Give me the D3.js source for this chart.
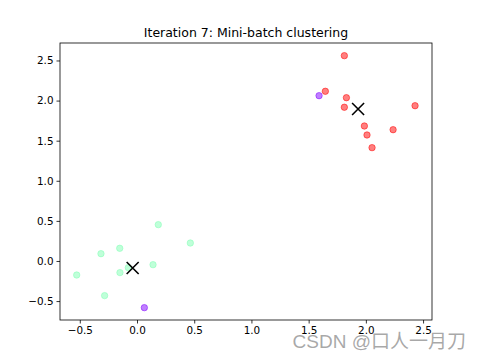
<!DOCTYPE html>
<html>
<head>
<meta charset="utf-8">
<script src="https://cdn.jsdelivr.net/npm/d3@7"></script>
<style>
  body { margin: 0; background: #fff; }
  text { font-family: "DejaVu Sans", sans-serif; }
</style>
</head>
<body>
<script>
var width = 480,
    height = 360,
    margin = {top: 43, right: 48, bottom: 40, left: 60};

// cluster points
var redX = [1.812, 1.646, 1.830, 1.812, 2.430, 1.987, 2.010, 2.238, 2.054];
var redY = [2.560, 2.116, 2.036, 1.917, 1.936, 1.683, 1.571, 1.637, 1.413];
var greenX = [0.186, 0.466, -0.151, -0.315, 0.140, -0.076, -0.149, -0.527, -0.283];
var greenY = [0.453, 0.224, 0.158, 0.091, -0.046, -0.083, -0.145, -0.175, -0.432];
var purpleX = [1.591, 0.064];
var purpleY = [2.061, -0.582];
var centerX = [1.932, -0.038];
var centerY = [1.895, -0.087];

var xTicks = [-0.5, 0.0, 0.5, 1.0, 1.5, 2.0, 2.5];
var yTicks = [-0.5, 0.0, 0.5, 1.0, 1.5, 2.0, 2.5];

var svg = d3.select("body")
    .append("svg")
    .attr("width", width)
    .attr("height", height);

var x = d3.scaleLinear()
    .domain([-0.673, 2.578])
    .range([margin.left, width - margin.right]);

var y = d3.scaleLinear()
    .domain([-0.736, 2.718])
    .range([height - margin.bottom, margin.top]);

function pts(xs, ys) {
  return xs.map(function (v, i) { return [v, ys[i]]; });
}

var groups = [
  {data: pts(greenX, greenY), color: "rgb(128,255,180)"},
  {data: pts(redX, redY), color: "rgb(255,0,0)"},
  {data: pts(purpleX, purpleY), color: "rgb(128,0,255)"}
];

groups.forEach(function (g) {
  svg.append("g").selectAll("circle")
    .data(g.data).enter()
    .append("circle")
      .attr("cx", function (d) { return x(d[0]); })
      .attr("cy", function (d) { return y(d[1]); })
      .attr("r", 3.2)
      .style("fill", g.color)
      .style("fill-opacity", 0.5)
      .style("stroke", g.color)
      .style("stroke-opacity", 0.5)
      .style("stroke-width", 1);
});

// centroids as X markers
var s = 6;
svg.append("g").selectAll("path")
  .data(pts(centerX, centerY)).enter()
  .append("path")
    .attr("d", function (d) {
      var cx = x(d[0]), cy = y(d[1]);
      return "M" + (cx - s) + "," + (cy - s) + "L" + (cx + s) + "," + (cy + s) +
             "M" + (cx - s) + "," + (cy + s) + "L" + (cx + s) + "," + (cy - s);
    })
    .style("stroke", "#000")
    .style("stroke-width", 1.6)
    .style("fill", "none");

// axes
var xAxis = svg.append("g")
    .attr("transform", "translate(0," + (height - margin.bottom) + ")")
    .call(d3.axisBottom(x).tickValues(xTicks).tickSize(3.5).tickPadding(3)
      .tickFormat(function (d) { return d3.format(".1f")(d).replace("-", "\u2212"); }));

var yAxis = svg.append("g")
    .attr("transform", "translate(" + margin.left + ",0)")
    .call(d3.axisLeft(y).tickValues(yTicks).tickSize(3.5).tickPadding(3)
      .tickFormat(function (d) { return d3.format(".1f")(d).replace("-", "\u2212"); }));

[xAxis, yAxis].forEach(function (a) {
  a.select(".domain").remove();
  a.selectAll("text").style("font-size", "10.4px").style("fill", "#000");
  a.selectAll("line").style("stroke", "#000").style("stroke-width", 0.8);
});

// frame
svg.append("rect")
    .attr("x", margin.left)
    .attr("y", margin.top)
    .attr("width", width - margin.left - margin.right)
    .attr("height", height - margin.top - margin.bottom)
    .style("fill", "none")
    .style("stroke", "#000")
    .style("stroke-width", 0.8);

svg.append("text")
    .attr("x", (margin.left + width - margin.right) / 2)
    .attr("y", 37)
    .attr("text-anchor", "middle")
    .style("font-size", "12.5px")
    .text("Iteration 7: Mini-batch clustering");

// watermark
svg.append("text")
    .attr("x", 466)
    .attr("y", 348)
    .attr("text-anchor", "end")
    .style("font-family", "'Liberation Sans', 'Noto Sans CJK SC', sans-serif")
    .style("font-size", "19px")
    .style("fill", "#999")
    .style("fill-opacity", 0.85)
    .text("CSDN @口人一月刀");
</script>
</body>
</html>
